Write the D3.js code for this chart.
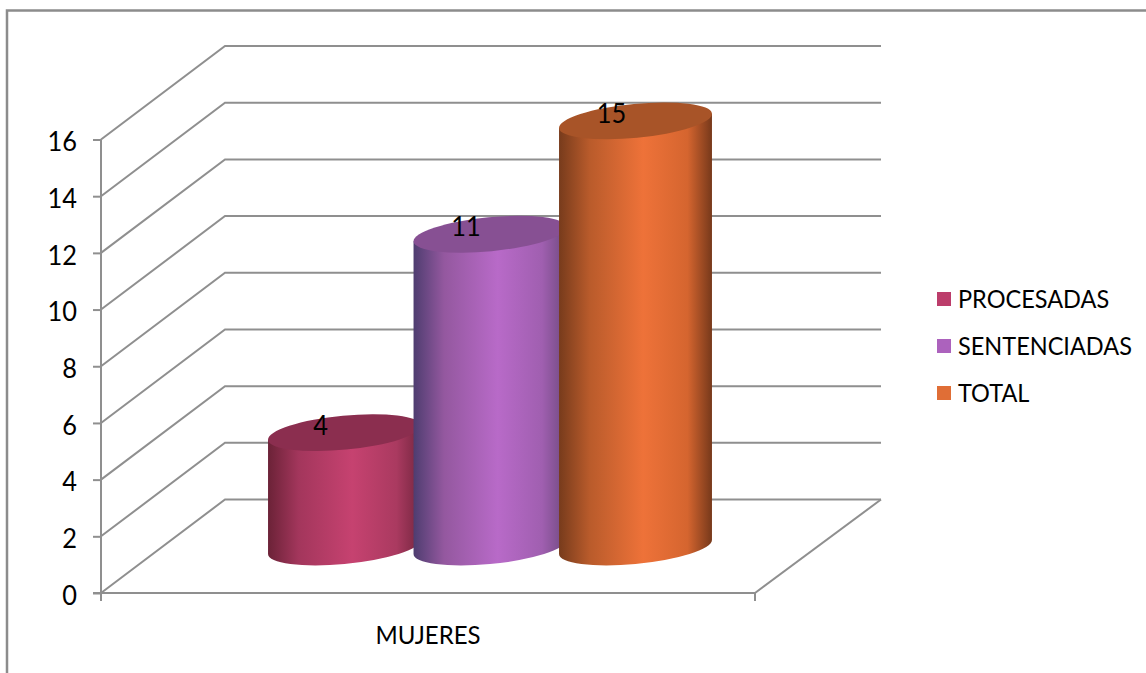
<!DOCTYPE html>
<html>
<head>
<meta charset="utf-8">
<script src="https://cdn.jsdelivr.net/npm/d3@7"></script>
<style>
  html, body { margin: 0; padding: 0; background: #fff; overflow: hidden; }
  text { font-family: "Lato", sans-serif; fill: #000; }
</style>
</head>
<body>
<div id="wrapper"></div>
<script>
const categories = ["MUJERES"];
const seriesNames = ["PROCESADAS", "SENTENCIADAS", "TOTAL"];
const seriesValues = [4, 11, 15];
const yTicks = [0, 2, 4, 6, 8, 10, 12, 14, 16];
const seriesRamps = [
  ["#6b2237", "#a3365c", "#c64270", "#aa3a60", "#74263f"],
  ["#4e3d70", "#94589f", "#b86ac8", "#a05fb0", "#6f4a80"],
  ["#773b1c", "#b95b2b", "#ee7239", "#d5652f", "#77391b"],
];
const seriesTops = ["#8b2e4f", "#875093", "#a85428"];
const seriesKeys = ["#bc3d6b", "#ac62bd", "#e06e36"];

const dimensions = { width: 1146, height: 673 };
const floor = { left: 101, right: 755, y0: 593, y16: 139.5 };
const depth = { dx: 124, dy: 93.5 };
const gridColor = "#8f8f8f";

const yScale = d3.scaleLinear().domain([0, 16]).range([floor.y0, floor.y16]);
const xBand = d3.scaleBand().domain(categories).range([floor.left, floor.right]);
const seriesScale = d3.scalePoint().domain(seriesNames).range([344.5, 635.5]);

// the original font is narrower than Lato
const squeeze = (selection) => selection.each(function () {
  d3.select(this)
    .attr("textLength", this.getComputedTextLength() * 0.94)
    .attr("lengthAdjust", "spacingAndGlyphs");
});

const wrapper = d3.select("#wrapper").append("svg")
  .attr("width", dimensions.width)
  .attr("height", dimensions.height)
  .style("display", "block");

// frame, only top and left are in the shot
wrapper.append("path")
  .attr("d", "M7,673V10.5H1146")
  .attr("fill", "none")
  .attr("stroke", "#8c8c8c")
  .attr("stroke-width", 2.5);

const grid = wrapper.append("g")
  .attr("fill", "none")
  .attr("stroke", gridColor)
  .attr("stroke-width", 2);

// side wall and back wall lines
grid.selectAll("path.wall").data(yTicks).join("path")
  .attr("class", "wall")
  .attr("d", d => {
    const y = yScale(d);
    return `M${floor.left},${y}L${floor.left + depth.dx},${y - depth.dy}H${floor.right + depth.dx + 2}`;
  });

// floor edge on the right
grid.append("path")
  .attr("d", `M${floor.right},${floor.y0}L${floor.right + depth.dx + 2},${floor.y0 - depth.dy}`);

// y axis
const yAxis = wrapper.append("g")
  .attr("transform", `translate(${floor.left},0)`)
  .call(d3.axisLeft(yScale).tickValues(yTicks).tickSize(8).tickPadding(16));
yAxis.selectAll("line, path").attr("stroke", gridColor).attr("stroke-width", 2);
yAxis.select(".domain").attr("d", `M0,${floor.y16}V${floor.y0}`);
yAxis.selectAll("text")
  .attr("font-family", null)
  .attr("font-size", 27)
  .attr("dy", "0.42em")
  .call(squeeze);

// x axis, ticks sit on the band edges
const xAxis = wrapper.append("g").attr("stroke", gridColor).attr("stroke-width", 2).attr("fill", "none");
xAxis.append("path").attr("d", `M${floor.left - 8},${floor.y0}H${floor.right}`);
xAxis.selectAll("line").data(xBand.range()).join("line")
  .attr("x1", d => d).attr("x2", d => d)
  .attr("y1", floor.y0).attr("y2", floor.y0 + 8);

wrapper.selectAll("text.category").data(categories).join("text")
  .attr("class", "category")
  .attr("x", d => xBand(d) + xBand.bandwidth() / 2)
  .attr("y", 644)
  .attr("text-anchor", "middle")
  .attr("font-size", 25.5)
  .text(d => d)
  .call(squeeze);

// gradients for the cylinder sides
const defs = wrapper.append("defs");
seriesNames.forEach((name, i) => {
  const g = defs.append("linearGradient").attr("id", `side${i}`);
  g.selectAll("stop").data(seriesRamps[i]).join("stop")
    .attr("offset", (d, j) => [0, 0.2, 0.55, 0.84, 1][j])
    .attr("stop-color", d => d);
});

// cylinders
const rx = 76.8, ry = 17, tilt = -5.5;
const rad = tilt * Math.PI / 180;
const halfW = Math.sqrt(rx * rx * Math.cos(rad) ** 2 + ry * ry * Math.sin(rad) ** 2);
const edgeDy = (rx * rx - ry * ry) * Math.sin(rad) * Math.cos(rad) / halfW;
const baseLift = 46, topLift = 47;

const bars = wrapper.selectAll("g.bar").data(seriesNames).join("g").attr("class", "bar");
bars.append("path")
  .attr("fill", (d, i) => `url(#side${i})`)
  .attr("d", (d, i) => {
    const cx = seriesScale(d);
    const top = yScale(seriesValues[i]) - topLift;
    const base = yScale(0) - baseLift;
    return `M${cx - halfW},${top - edgeDy}L${cx - halfW},${base - edgeDy}` +
      `A${rx},${ry} ${tilt} 0 0 ${cx + halfW},${base + edgeDy}` +
      `L${cx + halfW},${top + edgeDy}Z`;
  });
bars.append("ellipse")
  .attr("rx", rx).attr("ry", ry)
  .attr("fill", (d, i) => seriesTops[i])
  .attr("transform", (d, i) => `translate(${seriesScale(d)},${yScale(seriesValues[i]) - topLift}) rotate(${tilt})`);
bars.append("text")
  .attr("x", d => seriesScale(d) - 24)
  .attr("y", (d, i) => yScale(seriesValues[i]) - topLift + 2)
  .attr("text-anchor", "middle")
  .attr("font-size", 27)
  .text((d, i) => seriesValues[i])
  .call(squeeze);

// legend
const legendY = d3.scalePoint().domain(seriesNames).range([299, 393]);
const legend = wrapper.selectAll("g.key").data(seriesNames).join("g")
  .attr("class", "key")
  .attr("transform", d => `translate(937,${legendY(d)})`);
legend.append("rect")
  .attr("y", -7).attr("width", 14).attr("height", 14)
  .attr("fill", (d, i) => seriesKeys[i]);
legend.append("text")
  .attr("x", 21)
  .attr("dy", "0.36em")
  .attr("font-size", 25)
  .text(d => d)
  .call(squeeze);
</script>
</body>
</html>
